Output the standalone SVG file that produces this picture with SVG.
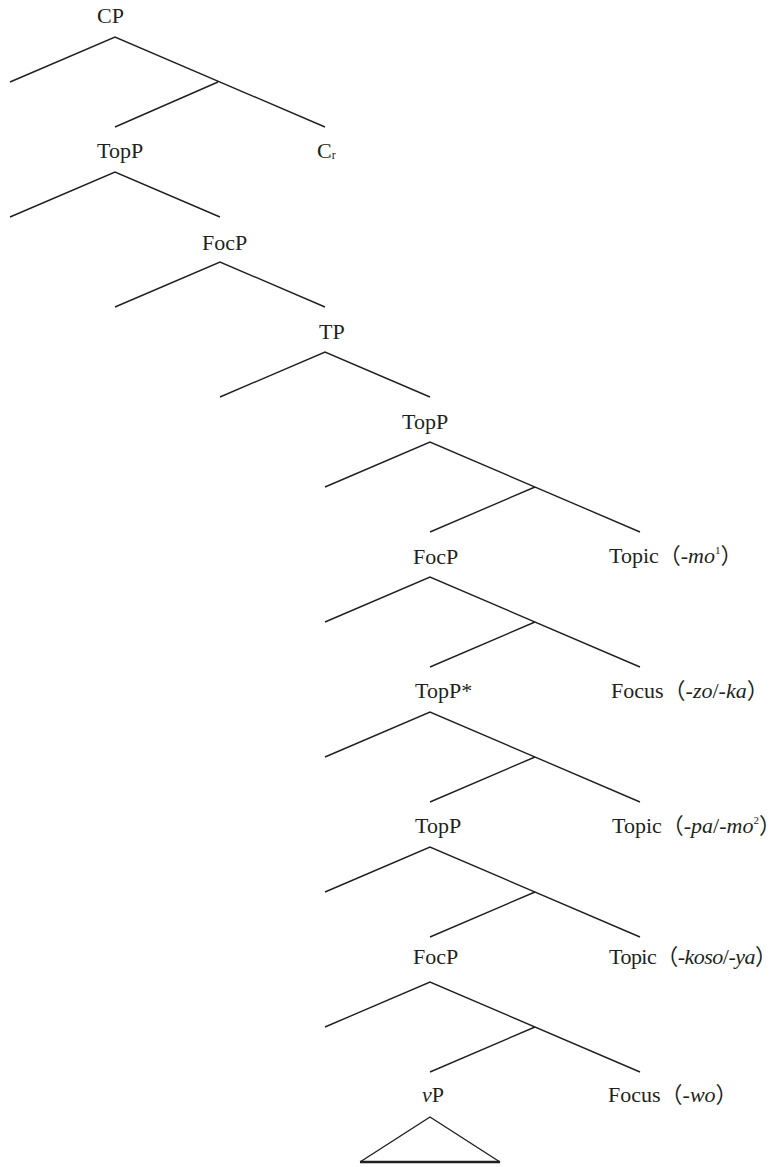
<svg xmlns="http://www.w3.org/2000/svg" width="779" height="1167" viewBox="0 0 779 1167">
<style>
text{font-family:"Liberation Serif","Noto Sans CJK JP",serif;font-size:22px;fill:#231f20}
.it{font-style:italic}
.sup{font-size:11px}
.sub{font-size:12px}
.edge{fill:none;stroke:#231f20;stroke-width:1.4;stroke-linejoin:miter}
</style>
<rect width="779" height="1167" fill="#ffffff"/>
<g id="connectors">
<path class="edge" d="M10,82 L115,37 L325,127 M218,82 L115,127"/>
<path class="edge" d="M10,217 L115,172 L220,217"/>
<path class="edge" d="M115,307 L220,262 L325,307"/>
<path class="edge" d="M220,397 L325,352 L430,397"/>
<path class="edge" d="M325,487 L430,442 L640,532 M535,487 L430,532"/>
<path class="edge" d="M325,622 L430,577 L640,667 M535,622 L430,667"/>
<path class="edge" d="M325,757 L430,712 L640,802 M535,757 L430,802"/>
<path class="edge" d="M325,892 L430,847 L640,937 M535,892 L430,937"/>
<path class="edge" d="M325,1027 L430,982 L640,1072 M535,1027 L430,1072"/>
</g>
<g id="n-cp"><text x="97" y="23">CP</text></g>
<g id="n-topp1"><text x="97" y="158">TopP</text></g>
<g id="n-cr"><text x="317" y="158">C<tspan class="sub" dy="1">r</tspan></text></g>
<g id="n-focp1"><text x="202" y="250">FocP</text></g>
<g id="n-tp"><text x="319" y="339">TP</text></g>
<g id="n-topp2"><text x="402" y="429">TopP</text></g>
<g id="n-focp2"><text x="413" y="564">FocP</text></g>
<g id="n-topic1"><text x="609" y="563">Topic（<tspan class="it">-mo</tspan><tspan class="sup" dy="-9">1</tspan><tspan dy="9">）</tspan></text></g>
<g id="n-toppstar"><text x="415" y="698">TopP*</text></g>
<g id="n-focus1"><text x="611" y="698">Focus（<tspan class="it">-zo</tspan>/<tspan class="it">-ka</tspan>）</text></g>
<g id="n-topp3"><text x="415" y="833">TopP</text></g>
<g id="n-topic2"><text x="612" y="833">Topic（<tspan class="it">-pa</tspan>/<tspan class="it">-mo</tspan><tspan class="sup" dy="-9">2</tspan><tspan dy="9">）</tspan></text></g>
<g id="n-focp3"><text x="413" y="964">FocP</text></g>
<g id="n-topic3"><text x="609" y="964" textLength="168" lengthAdjust="spacing">Topic（<tspan class="it">-koso</tspan>/<tspan class="it">-ya</tspan>）</text></g>
<g id="n-vp"><text x="422" y="1102"><tspan class="it">v</tspan>P</text></g>
<g id="n-focus2"><text x="608" y="1102">Focus（<tspan class="it">-wo</tspan>）</text></g>
<g id="n-triangle">
<path class="edge" d="M360,1162 L430,1117 L500,1162"/>
<path fill="none" stroke="#231f20" stroke-width="2.6" d="M360,1162 L500,1162"/>
</g>
</svg>
